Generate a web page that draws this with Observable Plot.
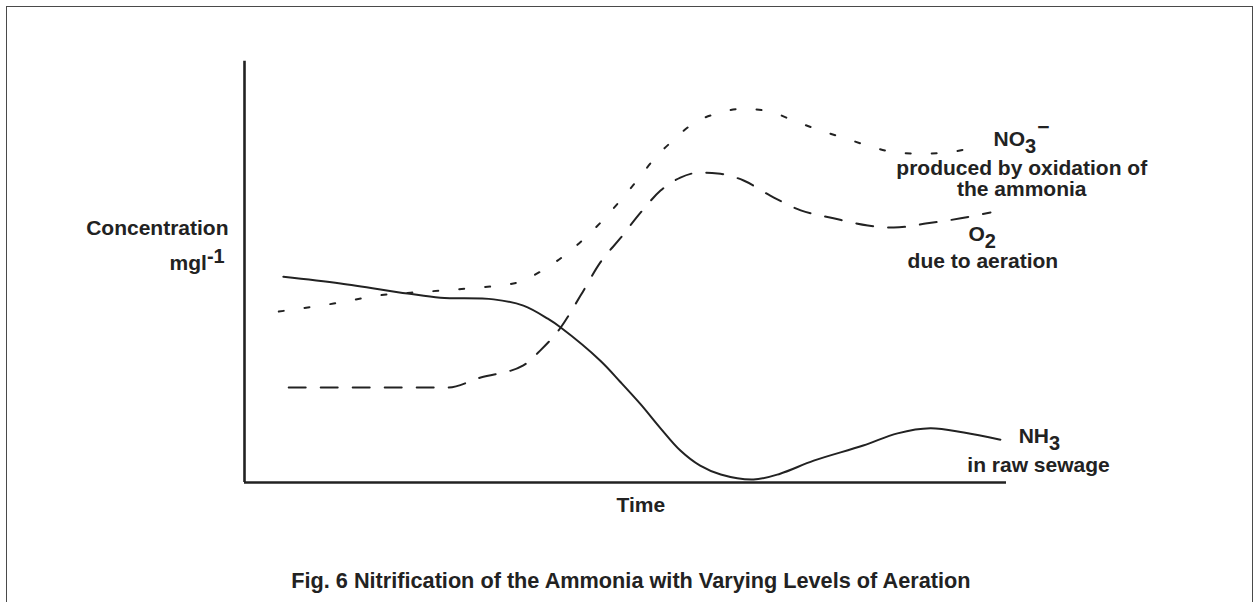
<!DOCTYPE html>
<html>
<head>
<meta charset="utf-8">
<script src="https://cdn.jsdelivr.net/npm/d3@7"></script>
<script src="https://cdn.jsdelivr.net/npm/@observablehq/plot@0.6"></script>
<style>
  html, body { margin: 0; padding: 0; background: #fff; overflow: hidden; }
  #wrap { position: relative; width: 1253px; height: 602px; }
  #border { position: absolute; left: 6px; top: 6px; width: 1247px; height: 700px;
            box-sizing: border-box; border: 1.7px solid #4a4a4a; border-bottom: none; }
  #chart { position: absolute; left: 0; top: 0; }
</style>
</head>
<body>
<div id="wrap"><div id="border"></div><div id="chart"></div></div>
<script>
// Time axis (arbitrary units 0-100) and concentration (arbitrary units 0-100)
const nh3Time = [5.1, 12.6, 21.4, 25.7, 32.7, 36.6, 39.8, 41.5, 46.7, 49.3, 52.0, 54.6, 57.2, 59.8, 62.5, 66.8, 70.3, 74.7, 81.2, 85.7, 90.0, 94.4, 99.2];
const nh3Conc = [49.0, 47.4, 45.0, 44.0, 43.6, 42.1, 39.0, 36.9, 29.0, 24.0, 18.6, 12.9, 7.6, 4.0, 1.9, 0.7, 2.1, 5.2, 8.8, 11.7, 12.9, 11.9, 10.2];

const no3Time = [4.5, 11.7, 18.8, 21.8, 29.3, 35.8, 39.1, 47.0, 49.3, 51.6, 53.7, 56.2, 58.9, 62.1, 65.5, 69.0, 72.0, 75.6, 78.9, 82.2, 85.4, 89.0, 92.4, 95.9];
const no3Conc = [40.7, 42.6, 44.8, 45.2, 46.2, 47.6, 50.5, 62.4, 67.1, 72.1, 76.9, 81.4, 85.5, 87.9, 89.0, 88.3, 86.2, 83.8, 81.9, 80.0, 78.6, 78.3, 78.6, 80.0];

const o2Time = [5.8, 16.5, 26.6, 31.0, 36.6, 38.8, 41.5, 44.1, 46.7, 49.3, 52.0, 54.6, 57.2, 59.8, 62.1, 65.5, 69.0, 73.0, 77.3, 81.8, 85.2, 89.6, 94.0, 97.9];
const o2Conc = [22.6, 22.6, 22.6, 25.0, 27.9, 31.4, 36.9, 44.5, 52.4, 58.1, 64.3, 69.5, 72.6, 73.8, 73.6, 71.9, 68.3, 64.8, 62.9, 61.2, 60.7, 61.7, 62.9, 64.3];

const xLabel = "Time";
const yLabel = "Concentration";
const yUnit = {main: "mgl", sup: "-1"};
const title = "Fig. 6 Nitrification of the Ammonia with Varying Levels of Aeration";

// Annotations in data units (time, concentration)
const annotations = [
  {t: 98.3, c: 80.2, text: "NO", sub: "3", sup: "\u2212", anchor: "start"},
  {t: 102.0, c: 73.1, text: "produced by oxidation of", anchor: "middle"},
  {t: 102.0, c: 68.1, text: "the ammonia", anchor: "middle"},
  {t: 95.0, c: 57.6, text: "O", sub: "2", anchor: "start"},
  {t: 96.9, c: 51.0, text: "due to aeration", anchor: "middle"},
  {t: 101.6, c: 9.3, text: "NH", sub: "3", anchor: "start"},
  {t: 104.2, c: 2.4, text: "in raw sewage", anchor: "middle"},
  {t: -2.1, c: 59.0, text: yLabel, anchor: "end"},
  {t: -2.6, c: 50.5, text: yUnit.main, supOnly: yUnit.sup, anchor: "end"},
  {t: 52.0, c: -7.1, text: xLabel, anchor: "middle"}
];
const titleNote = [{t: 50.7, c: -25.2, text: title}];

const toRows = (T, C) => T.map((t, i) => ({t, c: C[i]}));
const nh3 = toRows(nh3Time, nh3Conc);
const no3 = toRows(no3Time, no3Conc);
const o2 = toRows(o2Time, o2Conc);

const ink = "#222";
const textOpts = (anchor, size = 21) => ({
  x: "t", y: "c", text: "text", textAnchor: anchor, lineAnchor: "bottom",
  fontSize: size, fontWeight: "bold", fill: ink
});

const chart = Plot.plot({
  width: 1253,
  height: 602,
  marginLeft: 244,
  marginRight: 247,
  marginTop: 62,
  marginBottom: 120,
  x: {domain: [0, 100], axis: null},
  y: {domain: [0, 100], axis: null},
  style: {fontFamily: "'Liberation Sans', Arial, Helvetica, sans-serif", background: "transparent", overflow: "visible"},
  marks: [
    Plot.ruleY([0], {stroke: ink, strokeWidth: 2.6}),
    Plot.ruleX([0], {y1: 0, y2: 100.3, stroke: ink, strokeWidth: 2.6}),
    Plot.line(no3, {x: "t", y: "c", curve: "monotone-x", stroke: ink, strokeWidth: 2, strokeDasharray: "5,21"}),
    Plot.line(o2, {x: "t", y: "c", curve: "monotone-x", stroke: ink, strokeWidth: 2, strokeDasharray: "17,15"}),
    Plot.line(nh3, {x: "t", y: "c", curve: "catmull-rom", stroke: ink, strokeWidth: 2}),
    Plot.text(annotations.filter(d => d.anchor === "start"), textOpts("start")),
    Plot.text(annotations.filter(d => d.anchor === "middle"), textOpts("middle")),
    Plot.text(annotations.filter(d => d.anchor === "end"), textOpts("end")),
    Plot.text(titleNote, textOpts("middle", 21.7))
  ]
});
document.getElementById("chart").appendChild(chart);

// add sub/superscripts as tspans
const svg = d3.select(chart);
svg.selectAll("text").each(function() {
  const el = d3.select(this);
  const content = this.textContent;
  const a = annotations.find(d => d.text === content && (d.sub || d.supOnly));
  if (!a) return;
  this.textContent = "";
  el.append("tspan").text(a.text);
  if (a.sub) {
    el.append("tspan").attr("dy", 7).attr("font-size", 20).text(a.sub);
    if (a.sup) el.append("tspan").attr("dy", -19).attr("dx", 1).attr("font-size", 21).text(a.sup);
  }
  if (a.supOnly) {
    el.append("tspan").attr("dy", -7).attr("font-size", 20).text(a.supOnly);
  }
});
</script>
</body>
</html>
